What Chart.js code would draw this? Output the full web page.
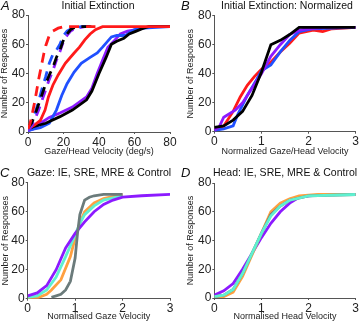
<!DOCTYPE html>
<html>
<head>
<meta charset="utf-8">
<script src="https://cdn.jsdelivr.net/npm/chart.js@4"></script>
<style>
  body { margin: 0; background: #fff; }
  #wrap { position: relative; width: 360px; height: 324px; }
  .panel { position: absolute; width: 180px; height: 162px; }
</style>
</head>
<body>
<div id="wrap">
  <div class="panel" style="left:0;top:0"><canvas id="panelA" width="180" height="162"></canvas></div>
  <div class="panel" style="left:180px;top:0"><canvas id="panelB" width="180" height="162"></canvas></div>
  <div class="panel" style="left:0;top:162px"><canvas id="panelC" width="180" height="162"></canvas></div>
  <div class="panel" style="left:180px;top:162px"><canvas id="panelD" width="180" height="162"></canvas></div>
</div>
<script>
// Tick values
const yTicks = [0, 20, 40, 60, 80];
const xTicksA = [0, 20, 40, 60, 80];
const xTicksNorm = [0, 1, 2, 3];

// Panel A - Initial Extinction (deg/s)
const aRedDashX = [0, 1, 2, 3, 4, 5, 6, 7, 8, 9, 10, 12, 14, 17, 20, 24, 30, 38];
const aRedDashY = [2, 5, 10, 16, 22, 29, 36, 42, 48, 54, 59, 66, 69, 71, 72, 72, 72, 72];
const aBlueDashX = [0, 2, 4, 6, 8, 10, 12, 14, 16, 18, 20, 22, 25, 30, 38];
const aBlueDashY = [2, 6, 13, 21, 30, 38, 47, 53, 56, 60, 66, 69, 71, 72, 72];
const aBlackDashX = [0, 2, 4, 6, 8, 10, 12, 14, 16, 18, 20, 22, 24, 27, 32, 38];
const aBlackDashY = [3, 6, 12, 19, 26, 33, 39, 44, 51, 56, 63, 67, 70, 72, 72, 72];
const aPurpleDashX = [0, 2, 4, 6, 8, 10, 12, 14, 16, 18, 20, 22, 24, 27, 32, 38];
const aPurpleDashY = [1, 4, 9, 15, 22, 29, 36, 42, 49, 55, 62, 66, 69, 71, 72, 72];
const aRedX = [0, 4, 7, 9.6, 11.5, 14, 17, 21, 26, 29, 32, 35, 38, 42, 80];
const aRedY = [2, 5, 8, 15, 24, 32, 39, 47, 54, 58, 63, 67, 70, 72, 72];
const aBlueX = [0, 3, 7, 12, 16, 19, 22, 26, 30, 35, 39, 42, 47, 50, 55, 57, 60, 65, 80];
const aBlueY = [1, 2, 3, 6, 15, 25, 33, 41, 47, 51, 54, 58, 65, 66, 66, 68, 70, 71, 72];
const aBlackX = [0, 3, 10, 18, 25, 33, 36, 40, 44, 47, 50, 54, 57, 61, 65, 68, 80];
const aBlackY = [2, 3.6, 6, 10.5, 15, 22, 28, 40, 51, 60, 62, 64, 67, 69, 71, 72, 72];
const aPurpleX = [0, 3, 7, 12, 18, 25, 33, 36, 39, 42, 45, 49, 52, 56, 61, 69, 80];
const aPurpleY = [1, 2, 6, 10, 13, 17, 24, 30, 40, 49, 58, 63, 67, 69, 70, 72, 72];

// Panel B - Initial Extinction: Normalized
const bBlackX = [0, 0.2, 0.4, 0.6, 0.8, 1.0, 1.2, 1.4, 1.6, 1.8, 3];
const bBlackY = [3, 4, 8, 14, 25, 41, 60, 63, 67, 72, 72];
const bBlueX = [0, 0.2, 0.4, 0.5, 0.7, 0.9, 1.0, 1.2, 1.4, 1.6, 1.8, 2.1, 3];
const bBlueY = [1, 2, 4, 12, 25, 36, 42, 46, 55, 63, 69, 71, 72];
const bRedX = [0, 0.2, 0.4, 0.55, 0.7, 0.85, 1.0, 1.2, 1.4, 1.6, 1.8, 2.1, 2.3, 2.5, 3];
const bRedY = [1, 4, 14, 24, 32, 38, 43, 48, 55, 61, 68, 70, 69, 71, 72];
const bPurpleX = [0, 0.1, 0.2, 0.45, 0.6, 0.8, 1.0, 1.2, 1.4, 1.6, 1.8, 2.0, 2.4, 3];
const bPurpleY = [1, 3, 10, 15, 20, 30, 40, 52, 60, 67, 70, 71, 72, 72];

// Panel C - Gaze: IE, SRE, MRE & Control
const cGrayX = [0.5, 0.6, 0.7, 0.8, 0.9, 1.0, 1.05, 1.1, 1.2, 1.3, 1.4, 1.6, 2.0];
const cGrayY = [1, 2, 3, 6, 12, 28, 45, 58, 68, 70, 71, 72, 72];
const cPurpleX = [0, 0.2, 0.4, 0.6, 0.8, 1.0, 1.2, 1.4, 1.6, 1.8, 2.0, 2.4, 3];
const cPurpleY = [2, 4, 9, 20, 35, 45, 53, 60, 65, 68, 70, 71, 72];
const cTealX = [0, 0.2, 0.4, 0.6, 0.8, 1.0, 1.1, 1.2, 1.4, 1.6, 2.0];
const cTealY = [1, 2, 6, 15, 29, 44, 52, 58, 64, 68, 71];
const cOrangeX = [0, 0.2, 0.4, 0.5, 0.7, 0.9, 1.0, 1.1, 1.2, 1.4, 1.6, 2.0];
const cOrangeY = [0, 0.5, 3, 6, 13, 29, 42, 52, 60, 66, 69, 72];

// Panel D - Head: IE, SRE, MRE & Control
const dPurpleX = [0, 0.2, 0.4, 0.6, 0.8, 1.0, 1.2, 1.4, 1.6, 1.8, 2.0, 2.4, 3];
const dPurpleY = [2, 5, 10, 20, 31, 42, 52, 60, 66, 70, 71, 72, 72];
const dOrangeX = [0, 0.2, 0.4, 0.6, 0.8, 1.0, 1.2, 1.4, 1.6, 1.8, 2.2, 3];
const dOrangeY = [0, 1, 4, 15, 30, 45, 60, 66, 69, 71, 72, 72];
const dGrayX = [0, 0.2, 0.4, 0.6, 0.8, 1.0, 1.2, 1.4, 1.6, 2.0, 3];
const dGrayY = [1, 2, 6, 17, 31, 45, 58, 64, 68, 71, 72];
const dTealX = [0, 0.2, 0.4, 0.6, 0.8, 1.0, 1.2, 1.4, 1.6, 2.0, 3];
const dTealY = [1, 2, 6, 17, 31, 45, 57, 64, 68, 71, 72];

const FONT = "'Liberation Sans', Arial, Helvetica, sans-serif";
const RED = '#ff1a1a', BLUE = '#2050ff', BLACK = '#000000', PURPLE = '#8c1aff';
const ORANGE = '#ffa040', TEAL = '#5ff0d0', GRAY = '#6b7b7b';
const AXIS = '#555555', TEXT = '#222222';

// draws the panel letter and the panel heading
const panelText = {
    id: 'panelText',
    afterDraw(chart, args, opts) {
        const ctx = chart.ctx;
        ctx.save();
        ctx.fillStyle = '#111';
        ctx.textBaseline = 'alphabetic';
        ctx.textAlign = 'left';
        ctx.font = 'italic 13px ' + FONT;
        ctx.fillText(opts.letter, opts.letterX, opts.letterY);
        ctx.textAlign = 'center';
        ctx.font = '10.5px ' + FONT;
        ctx.fillText(opts.title, opts.titleX, opts.titleY);
        ctx.restore();
    }
};

function line(xs, ys, color, dashed) {
    return {
        data: xs.map((x, i) => ({x: x, y: ys[i]})),
        borderColor: color,
        borderWidth: 2.8,
        borderDash: dashed ? [10, 7] : [],
        pointRadius: 0,
        tension: 0,
        fill: false
    };
}

function makePanel(id, p) {
    new Chart(document.getElementById(id), {
        type: 'line',
        data: {datasets: p.datasets},
        options: {
            responsive: false,
            animation: false,
            events: [],
            layout: {padding: {top: p.top, right: p.right, left: 0, bottom: 0}},
            plugins: {
                legend: {display: false},
                tooltip: {enabled: false},
                panelText: p.text
            },
            scales: {
                x: {
                    type: 'linear',
                    min: p.xTicks[0],
                    max: p.xTicks[p.xTicks.length - 1],
                    afterBuildTicks: s => { s.ticks = p.xTicks.map(v => ({value: v})); },
                    ticks: {font: {size: 12, family: FONT}, color: TEXT, padding: 1, maxRotation: 0, autoSkip: false},
                    grid: {drawOnChartArea: false, tickLength: 2, color: AXIS},
                    border: {color: AXIS, width: 1},
                    title: {display: true, text: p.xTitle, color: TEXT,
                        font: {size: 9, family: FONT, lineHeight: 1},
                        padding: {top: 0, bottom: p.xTitlePad}},
                    afterFit: s => { s.height = p.xHeight; }
                },
                y: {
                    min: 0,
                    max: 80,
                    afterBuildTicks: s => { s.ticks = yTicks.map(v => ({value: v})); },
                    ticks: {font: {size: 12, family: FONT}, color: TEXT, padding: 1},
                    grid: {drawOnChartArea: false, tickLength: 2, color: AXIS},
                    border: {color: AXIS, width: 1},
                    title: {display: true, text: 'Number of Responses', color: TEXT,
                        font: {size: 9, family: FONT, lineHeight: 1},
                        padding: {top: p.yTitlePad, bottom: 0}},
                    afterFit: s => { s.width = p.yWidth; }
                }
            }
        },
        plugins: [panelText]
    });
}

makePanel('panelA', {
    datasets: [
        line(aRedDashX, aRedDashY, RED, true),
        line(aBlackDashX, aBlackDashY, BLACK, true),
        line(aBlueDashX, aBlueDashY, BLUE, true),
        line(aPurpleDashX, aPurpleDashY, PURPLE, true),
        line(aRedX, aRedY, RED, false),
        line(aBlackX, aBlackY, BLACK, false),
        line(aBlueX, aBlueY, BLUE, false),
        line(aPurpleX, aPurpleY, PURPLE, false)
    ],
    xTicks: xTicksA, xTitle: 'Gaze/Head Velocity (deg/s)',
    top: 15, right: 10, yWidth: 28, xHeight: 30, xTitlePad: 6, yTitlePad: 0,
    text: {letter: 'A', letterX: 1, letterY: 10, title: 'Initial Extinction', titleX: 98, titleY: 9}
});

makePanel('panelB', {
    datasets: [
        line(bBlackX, bBlackY, BLACK, false),
        line(bPurpleX, bPurpleY, PURPLE, false),
        line(bBlueX, bBlueY, BLUE, false),
        line(bRedX, bRedY, RED, false)
    ],
    xTicks: xTicksNorm, xTitle: 'Normalized Gaze/Head Velocity',
    top: 15.7, right: 3.3, yWidth: 34.3, xHeight: 30.3, xTitlePad: 5.5, yTitlePad: 6.3,
    text: {letter: 'B', letterX: 1, letterY: 10, title: 'Initial Extinction: Normalized', titleX: 107, titleY: 9}
});

makePanel('panelC', {
    datasets: [
        line(cGrayX, cGrayY, GRAY, false),
        line(cPurpleX, cPurpleY, PURPLE, false),
        line(cTealX, cTealY, TEAL, false),
        line(cOrangeX, cOrangeY, ORANGE, false)
    ],
    xTicks: xTicksNorm, xTitle: 'Normalised Gaze Velocity',
    top: 20.7, right: 10, yWidth: 27.7, xHeight: 25.3, xTitlePad: 2.5, yTitlePad: 1,
    text: {letter: 'C', letterX: 0, letterY: 15, title: 'Gaze: IE, SRE, MRE & Control', titleX: 99, titleY: 13.5}
});

makePanel('panelD', {
    datasets: [
        line(dTealX, dTealY, TEAL, false),
        line(dGrayX, dGrayY, GRAY, false),
        line(dOrangeX, dOrangeY, ORANGE, false),
        line(dPurpleX, dPurpleY, PURPLE, false)
    ],
    xTicks: xTicksNorm, xTitle: 'Normalised Head Velocity',
    top: 21, right: 3.3, yWidth: 34.3, xHeight: 26, xTitlePad: 2.5, yTitlePad: 6.3,
    text: {letter: 'D', letterX: 1, letterY: 15, title: 'Head: IE, SRE, MRE & Control', titleX: 105, titleY: 13.5}
});
</script>
</body>
</html>
